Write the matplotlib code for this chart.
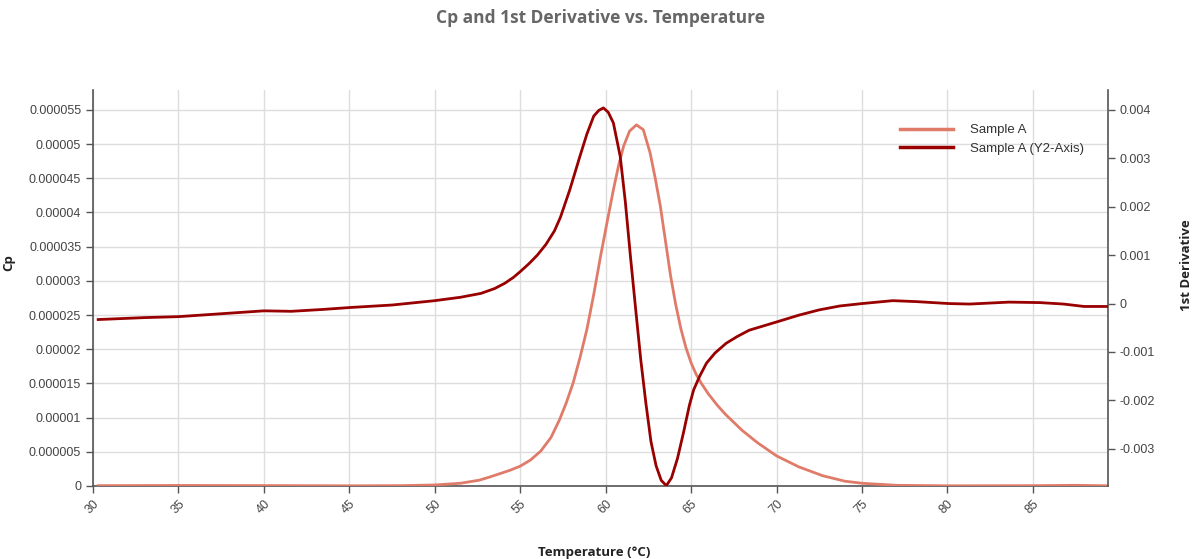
import matplotlib
matplotlib.use("Agg")
import matplotlib.pyplot as plt
from matplotlib.ticker import FuncFormatter

# ─── DATA ────────────────────────────────────────────────────
temp_cp = [30.3, 35, 40, 45, 48, 50, 51.5, 52.6, 53.2, 53.8, 54.4, 55.0, 55.6,
           56.2, 56.8, 57.3, 57.7, 58.1, 58.5, 58.9, 59.3, 59.7, 60.1, 60.45,
           60.75, 61.05, 61.4, 61.8, 62.2, 62.6, 62.9, 63.2, 63.5, 63.8, 64.1,
           64.4, 64.7, 65.0, 65.3, 65.6, 66.0, 66.5, 67.0, 67.5, 68.0, 68.9,
           70.0, 71.3, 72.7, 74.0, 75.0, 77.0, 80.0, 85.0, 87.5, 89.4]
cp_e6 = [0.05, 0.08, 0.06, 0.03, 0.05, 0.15, 0.4, 0.85, 1.3, 1.8, 2.3, 2.9, 3.8,
         5.1, 7.1, 9.7, 12.2, 15.1, 18.8, 22.9, 28.0, 33.6, 38.8, 43.3,
         46.8, 49.7, 51.9, 52.8, 52.1, 48.7, 45.0, 40.9, 35.8, 30.7, 26.5,
         23.0, 20.2, 18.0, 16.3, 15.0, 13.5, 11.9, 10.5, 9.3, 8.1, 6.3,
         4.4, 2.8, 1.5, 0.7, 0.4, 0.1, 0.03, 0.05, 0.1, 0.03]
cp = [v * 1e-6 for v in cp_e6]

temp_d = [30.3, 33, 35, 37.5, 40, 41.6, 43.5, 45.1, 47.5, 50, 51.5, 52.7, 53.5,
          54.1, 54.6, 55.0, 55.5, 56.0, 56.5, 57.0, 57.35, 57.9, 58.5, 58.9,
          59.3, 59.6, 59.87, 60.15, 60.45, 60.85, 61.15, 61.45, 61.75, 62.05,
          62.35, 62.65, 62.95, 63.25, 63.55, 63.85, 64.2, 64.55, 64.9, 65.15,
          65.5, 65.9, 66.4, 67.05, 67.7, 68.4, 70.0, 71.3, 72.5, 73.7, 75.0,
          76.8, 78.2, 80.1, 81.3, 83.6, 85.4, 86.8, 88.0, 89.4]
deriv_e3 = [-0.33, -0.29, -0.27, -0.21, -0.15, -0.16, -0.12, -0.08, -0.03, 0.06,
            0.13, 0.21, 0.31, 0.42, 0.54, 0.66, 0.82, 1.0, 1.22, 1.5, 1.78,
            2.35, 3.05, 3.5, 3.87, 3.99, 4.04, 3.95, 3.73, 3.04, 2.1, 0.97,
            -0.1, -1.15, -2.05, -2.85, -3.35, -3.65, -3.76, -3.6, -3.2, -2.67,
            -2.1, -1.78, -1.5, -1.23, -1.02, -0.82, -0.68, -0.55, -0.38, -0.24,
            -0.13, -0.05, 0.0, 0.06, 0.04, 0.0, -0.01, 0.03, 0.02, -0.01, -0.06,
            -0.06]
deriv = [v * 1e-3 for v in deriv_e3]

x_ticks = [30, 35, 40, 45, 50, 55, 60, 65, 70, 75, 80, 85]
cp_ticks = [0, 0.000005, 0.00001, 0.000015, 0.00002, 0.000025, 0.00003,
            0.000035, 0.00004, 0.000045, 0.00005, 0.000055]
d_ticks = [-0.003, -0.002, -0.001, 0, 0.001, 0.002, 0.003, 0.004]

# ─── STYLE ───────────────────────────────────────────────────
CP_COLOR = "#E07B6A"
D_COLOR = "#990000"
AXIS_COLOR = "#555555"
TICK_FONT = "Liberation Sans"
LABEL_FONT = "Open Sans"


def plain(v, _pos=None):
    s = f"{v:.6f}".rstrip("0").rstrip(".")
    return "0" if s in ("-0", "0") else s


fig = plt.figure(figsize=(11.93, 5.59), dpi=100)
ax = fig.add_axes([0.078, 0.1306, 0.8508, 0.7084])
ax2 = ax.twinx()

ax.plot(temp_cp, cp, color=CP_COLOR, lw=2.0, label="Sample A", zorder=3)
ax2.plot(temp_d, deriv, color=D_COLOR, lw=2.0, label="Sample A (Y2-Axis)", zorder=3)

ax.set_xlim(30, 89.4)
ax.set_ylim(0, 0.0000579)
ax2.set_ylim(-0.003767, 0.00441)

ax.set_xticks(x_ticks)
ax.set_yticks(cp_ticks)
ax2.set_yticks(d_ticks)
ax.yaxis.set_major_formatter(FuncFormatter(plain))
ax2.yaxis.set_major_formatter(FuncFormatter(plain))

ax.grid(True, color="#dddddd", lw=1)
ax.set_axisbelow(True)

for a in (ax, ax2):
    a.spines["top"].set_visible(False)
    for side in ("left", "right", "bottom"):
        a.spines[side].set_color(AXIS_COLOR)
        a.spines[side].set_linewidth(1.2)
    a.tick_params(colors=AXIS_COLOR, length=5, width=1, labelcolor="#444444",
                  labelsize=9)
ax.spines["right"].set_visible(False)
ax2.spines["left"].set_visible(False)
ax2.spines["bottom"].set_visible(False)

for lbl in ax.get_xticklabels():
    lbl.set_rotation(45)
    lbl.set_ha("right")
    lbl.set_rotation_mode("anchor")
    lbl.set_family(TICK_FONT)
for lbl in ax.get_yticklabels() + ax2.get_yticklabels():
    lbl.set_family(TICK_FONT)

ax.set_xlabel("Temperature (°C)", family=LABEL_FONT, fontweight="bold",
              fontsize=9.5, color="#222222")
ax.set_ylabel("Cp", family=LABEL_FONT, fontweight="bold", fontsize=9.5,
              color="#222222")
ax2.set_ylabel("1st Derivative", family=LABEL_FONT, fontweight="bold",
               fontsize=9.5, color="#222222")
ax.xaxis.set_label_coords(0.494, -0.152)
ax.yaxis.set_label_coords(-0.077, 0.563)
ax2.yaxis.set_label_coords(1.071, 0.558)

fig.text(0.503, 0.967, "Cp and 1st Derivative vs. Temperature", ha="center",
         va="center", family=LABEL_FONT, fontweight="bold", fontsize=12.5,
         color="#666666")

h1, l1 = ax.get_legend_handles_labels()
h2, l2 = ax2.get_legend_handles_labels()
leg = fig.legend(h1 + h2, l1 + l2, loc="upper left",
                 bbox_to_anchor=(900 / 1193, 1 - 124 / 559), frameon=False,
                 borderpad=0, borderaxespad=0, handlelength=4.0,
                 handletextpad=1.3, labelspacing=0.5,
                 prop={"family": TICK_FONT, "size": 9.5})
for t in leg.get_texts():
    t.set_color("#333333")
for line in leg.get_lines():
    line.set_linewidth(2.5)

fig.savefig("out.png", dpi=100)
